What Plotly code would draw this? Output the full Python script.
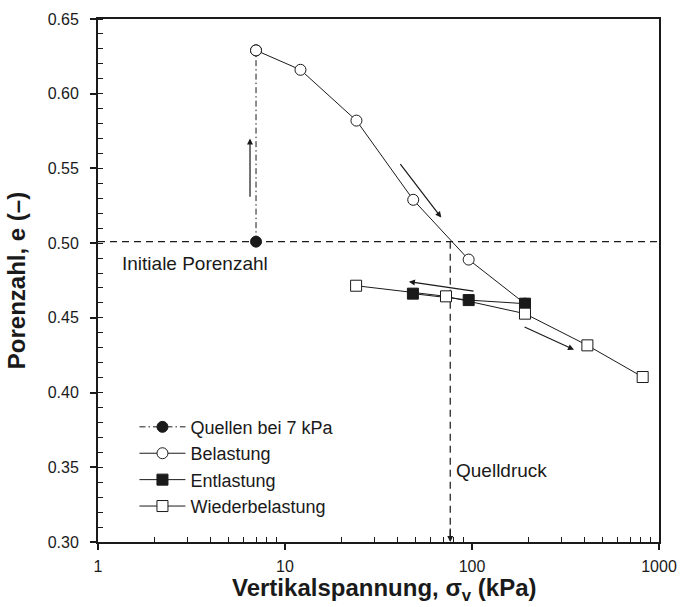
import plotly.graph_objects as go
import numpy as np

# ---- data ----
quellen_x = [7.0, 7.0]
quellen_y = [0.501, 0.629]

belastung_x = [7.0, 12.1, 24.1, 48.5, 96.0, 192.0]
belastung_y = [0.629, 0.616, 0.582, 0.529, 0.489, 0.4595]

entlastung_x = [192.0, 96.0, 48.3]
entlastung_y = [0.4595, 0.4619, 0.4662]

wieder_x = [24.0, 72.6, 192.0, 414.0, 818.0]
wieder_y = [0.4715, 0.4644, 0.4528, 0.4316, 0.4104]

initial_e = 0.501
quelldruck_x = 76.5

# arrows: (tail_x, tail_y, head_x, head_y)
arrows = [
    (6.5, 0.530, 6.5, 0.570),
    (40.8, 0.5539, 68.5, 0.5171),
    (103.8, 0.4677, 46.0, 0.4742),
    (187.5, 0.4443, 351.0, 0.4287),
]

x_ticks = [1, 10, 100, 1000]
x_ticklabels = ["1", "10", "100", "1000"]
x_minor = [m * d for d in (1, 10, 100) for m in range(2, 10)]

FONT = "Liberation Sans, Arial, sans-serif"
INK = "#1a1a1a"

fig = go.Figure()

fig.add_trace(go.Scatter(
    x=quellen_x, y=quellen_y, mode="lines+markers", name="Quellen bei 7 kPa",
    line=dict(color=INK, width=1, dash="6px,3px,1.5px,3px"),
    marker=dict(symbol="circle", size=11, color=INK, line=dict(color=INK, width=1)),
))
fig.add_trace(go.Scatter(
    x=belastung_x, y=belastung_y, mode="lines+markers", name="Belastung",
    line=dict(color=INK, width=1),
    marker=dict(symbol="circle", size=11, color="white", line=dict(color=INK, width=1)),
))
fig.add_trace(go.Scatter(
    x=entlastung_x, y=entlastung_y, mode="lines+markers", name="Entlastung",
    line=dict(color=INK, width=1),
    marker=dict(symbol="square", size=11, color=INK, line=dict(color=INK, width=1)),
))
fig.add_trace(go.Scatter(
    x=wieder_x, y=wieder_y, mode="lines+markers", name="Wiederbelastung",
    line=dict(color=INK, width=1),
    marker=dict(symbol="square", size=11, color="white", line=dict(color=INK, width=1)),
))

# reference lines
fig.add_shape(type="line", xref="x", yref="y", x0=1, x1=1000, y0=initial_e, y1=initial_e,
              line=dict(color=INK, width=1.2, dash="7px,5px"), layer="below")
fig.add_shape(type="line", xref="x", yref="y", x0=quelldruck_x, x1=quelldruck_x,
              y0=initial_e, y1=0.302,
              line=dict(color=INK, width=1.2, dash="7px,5px"), layer="below")
fig.add_annotation(x=np.log10(quelldruck_x), y=0.300, ax=np.log10(quelldruck_x), ay=0.31,
                   xref="x", yref="y", axref="x", ayref="y", text="", showarrow=True,
                   arrowhead=2, arrowsize=1, arrowwidth=1.2, arrowcolor=INK)

for tx, ty, hx, hy in arrows:
    fig.add_annotation(x=np.log10(hx), y=hy, ax=np.log10(tx), ay=ty,
                       xref="x", yref="y", axref="x", ayref="y", text="", showarrow=True,
                       arrowhead=2, arrowsize=1, arrowwidth=1.2, arrowcolor=INK)

fig.add_annotation(x=np.log10(1.31), y=0.4865, xref="x", yref="y", text="Initiale Porenzahl",
                   showarrow=False, xanchor="left", yanchor="middle",
                   font=dict(family=FONT, size=19, color=INK))
fig.add_annotation(x=np.log10(80), y=0.348, xref="x", yref="y", text="Quelldruck",
                   showarrow=False, xanchor="left", yanchor="middle",
                   font=dict(family=FONT, size=19, color=INK))

# x-axis title placed as an annotation below the tick labels
fig.add_annotation(x=0.51, y=-0.1245, xref="paper", yref="paper",
                   text="<b>Vertikalspannung, σ<sub>v</sub> (kPa)</b>",
                   showarrow=False, xanchor="center", yanchor="bottom",
                   font=dict(family=FONT, size=24, color=INK))

axis_common = dict(showline=True, mirror=True, linecolor=INK, linewidth=2,
                   showgrid=False, zeroline=False, ticks="outside", ticklen=6,
                   tickwidth=1.5, tickcolor=INK, automargin=False,
                   tickfont=dict(family=FONT, size=16, color=INK))

fig.update_xaxes(type="log", range=[0, 3], tickmode="array", tickvals=x_ticks,
                 ticktext=x_ticklabels, ticklabelstandoff=3,
                 minor=dict(tickmode="array", tickvals=x_minor, ticks="inside", ticklen=5,
                            tickwidth=1, tickcolor=INK, showgrid=False),
                 **axis_common)
fig.update_yaxes(range=[0.30, 0.65], tickmode="linear", tick0=0.30, dtick=0.05,
                 tickformat=".2f", ticklabelstandoff=8,
                 minor=dict(dtick=0.01, ticks="inside", ticklen=5, tickwidth=1,
                            tickcolor=INK, showgrid=False),
                 title=dict(text="<b>Porenzahl, e (–)</b>",
                            font=dict(family=FONT, size=24, color=INK)),
                 **axis_common)

fig.update_layout(
    width=692, height=607,
    margin=dict(l=98, r=33, t=19, b=65),
    paper_bgcolor="white", plot_bgcolor="white",
    font=dict(family=FONT, color=INK),
    showlegend=True,
    legend=dict(x=0.065, y=0.255, xanchor="left", yanchor="top",
                bgcolor="rgba(0,0,0,0)", borderwidth=0,
                font=dict(family=FONT, size=18, color=INK),
                itemwidth=46, tracegroupgap=0),
)

fig.write_html("out.html")
